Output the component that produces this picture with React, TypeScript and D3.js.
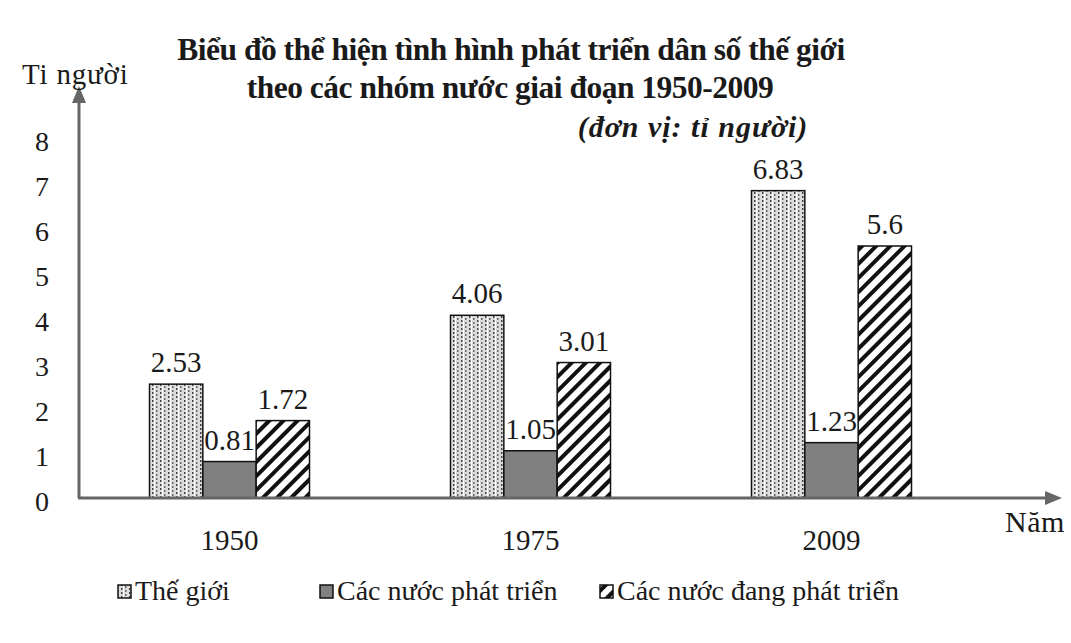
import * as d3 from "d3";
import { useEffect, useRef } from "react";

const years = ["1950", "1975", "2009"];
const seriesNames = ["Thế giới", "Các nước phát triển", "Các nước đang phát triển"];
const worldValues = [2.53, 4.06, 6.83];
const developedValues = [0.81, 1.05, 1.23];
const developingValues = [1.72, 3.01, 5.6];
const yTicks = [0, 1, 2, 3, 4, 5, 6, 7, 8];

const App = () => {
    const svgRef = useRef<SVGSVGElement | null>(null);

    const dimensions = { width: 1071, height: 643 };
    const font = "Liberation Serif, Times New Roman, serif";

    useEffect(() => {
        const svg = d3.select(svgRef.current);
        svg.selectAll("*").remove();

        const series = [worldValues, developedValues, developingValues];
        const fills = ["url(#dots)", "#808080", "url(#hatch)"];

        // patterns
        const defs = svg.append("defs");
        const dots = defs
            .append("pattern")
            .attr("id", "dots")
            .attr("patternUnits", "userSpaceOnUse")
            .attr("width", 8)
            .attr("height", 4);
        dots.append("rect").attr("width", 8).attr("height", 4).attr("fill", "#dcdcdc");
        dots.append("rect").attr("x", 1).attr("y", 0).attr("width", 1.5).attr("height", 2).attr("fill", "#444");
        dots.append("rect").attr("x", 5).attr("y", 2).attr("width", 1.5).attr("height", 2).attr("fill", "#666");
        dots.append("rect").attr("x", 3).attr("y", 0).attr("width", 1).attr("height", 4).attr("fill", "#fff");

        const hatch = defs
            .append("pattern")
            .attr("id", "hatch")
            .attr("patternUnits", "userSpaceOnUse")
            .attr("width", 10)
            .attr("height", 10)
            .attr("patternTransform", "rotate(45)");
        hatch.append("rect").attr("width", 10).attr("height", 10).attr("fill", "#fff");
        hatch.append("rect").attr("x", 0).attr("width", 4).attr("height", 10).attr("fill", "#111");

        // Scales
        const xScale = d3.scaleBand().domain(years).range([79, 982]).padding(0);
        const groupWidth = 160;
        const x1 = d3
            .scaleBand()
            .domain(seriesNames)
            .range([(xScale.bandwidth() - groupWidth) / 2, (xScale.bandwidth() + groupWidth) / 2]);
        const yScale = d3.scaleLinear().domain([0, 8]).range([498, 138]);

        const txt = (x: number, y: number, s: string, size = 28, anchor = "middle") =>
            svg.append("text")
                .attr("x", x)
                .attr("y", y)
                .attr("text-anchor", anchor)
                .attr("font-family", font)
                .attr("font-size", size)
                .attr("fill", "#1a1a1a")
                .text(s);

        // title
        txt(511, 60, "Biểu đồ thể hiện tình hình phát triển dân số thế giới", 31.5)
            .attr("font-weight", "bold").attr("letter-spacing", -0.5);
        txt(510, 98, "theo các nhóm nước giai đoạn 1950-2009", 31.5)
            .attr("font-weight", "bold").attr("letter-spacing", -0.5);
        txt(693, 137, "(đơn vị: tỉ người)", 30)
            .attr("font-weight", "bold").attr("font-style", "italic").attr("letter-spacing", 1);

        // bars
        years.forEach((year, i) => {
            const g = svg.append("g").attr("transform", `translate(${xScale(year)},0)`);
            series.forEach((vals, s) => {
                const v = vals[i];
                g.append("rect")
                    .attr("x", x1(seriesNames[s]) as number)
                    .attr("y", yScale(v))
                    .attr("width", x1.bandwidth())
                    .attr("height", yScale(0) - yScale(v))
                    .attr("fill", fills[s])
                    .attr("stroke", "#111")
                    .attr("stroke-width", 1.5);
            });
            series.forEach((vals, s) => {
                const v = vals[i];
                txt(
                    (xScale(year) as number) + (x1(seriesNames[s]) as number) + x1.bandwidth() / 2,
                    yScale(v) - 12,
                    String(v),
                    29
                );
            });
            txt((xScale(year) as number) + xScale.bandwidth() / 2, 550, year, 29);
        });

        // axes
        const axisColor = "#666";
        svg.append("line")
            .attr("x1", 79).attr("x2", 79)
            .attr("y1", yScale(0)).attr("y2", 100)
            .attr("stroke", axisColor).attr("stroke-width", 3);
        svg.append("path")
            .attr("d", "M79,86 L72,103 L86,103 Z")
            .attr("fill", axisColor);
        svg.append("line")
            .attr("x1", 78).attr("x2", 1048)
            .attr("y1", yScale(0)).attr("y2", yScale(0))
            .attr("stroke", axisColor).attr("stroke-width", 3);
        svg.append("path")
            .attr("d", `M1062,${yScale(0)} L1045,${yScale(0) - 7} L1045,${yScale(0) + 7} Z`)
            .attr("fill", axisColor);

        yTicks.forEach((d) => txt(42, yScale(d) + 13, String(d), 28));

        txt(22, 84, "Ti người", 29, "start").attr("letter-spacing", 0.8);
        txt(1005, 532, "Năm", 30, "start").attr("letter-spacing", 0.5);

        // legend
        const legendX = [118, 320, 600];
        seriesNames.forEach((name, s) => {
            svg.append("rect")
                .attr("x", legendX[s]).attr("y", 585)
                .attr("width", 13).attr("height", 13)
                .attr("fill", fills[s])
                .attr("stroke", "#111").attr("stroke-width", 1.5);
            txt(legendX[s] + 17, 600, name, 28, "start");
        });
    }, []);

    return (
        <svg
            ref={svgRef}
            width={dimensions.width}
            height={dimensions.height}
            style={{ position: "absolute", left: 0, top: 0, background: "#fff" }}
        />
    );
};

export default App;
